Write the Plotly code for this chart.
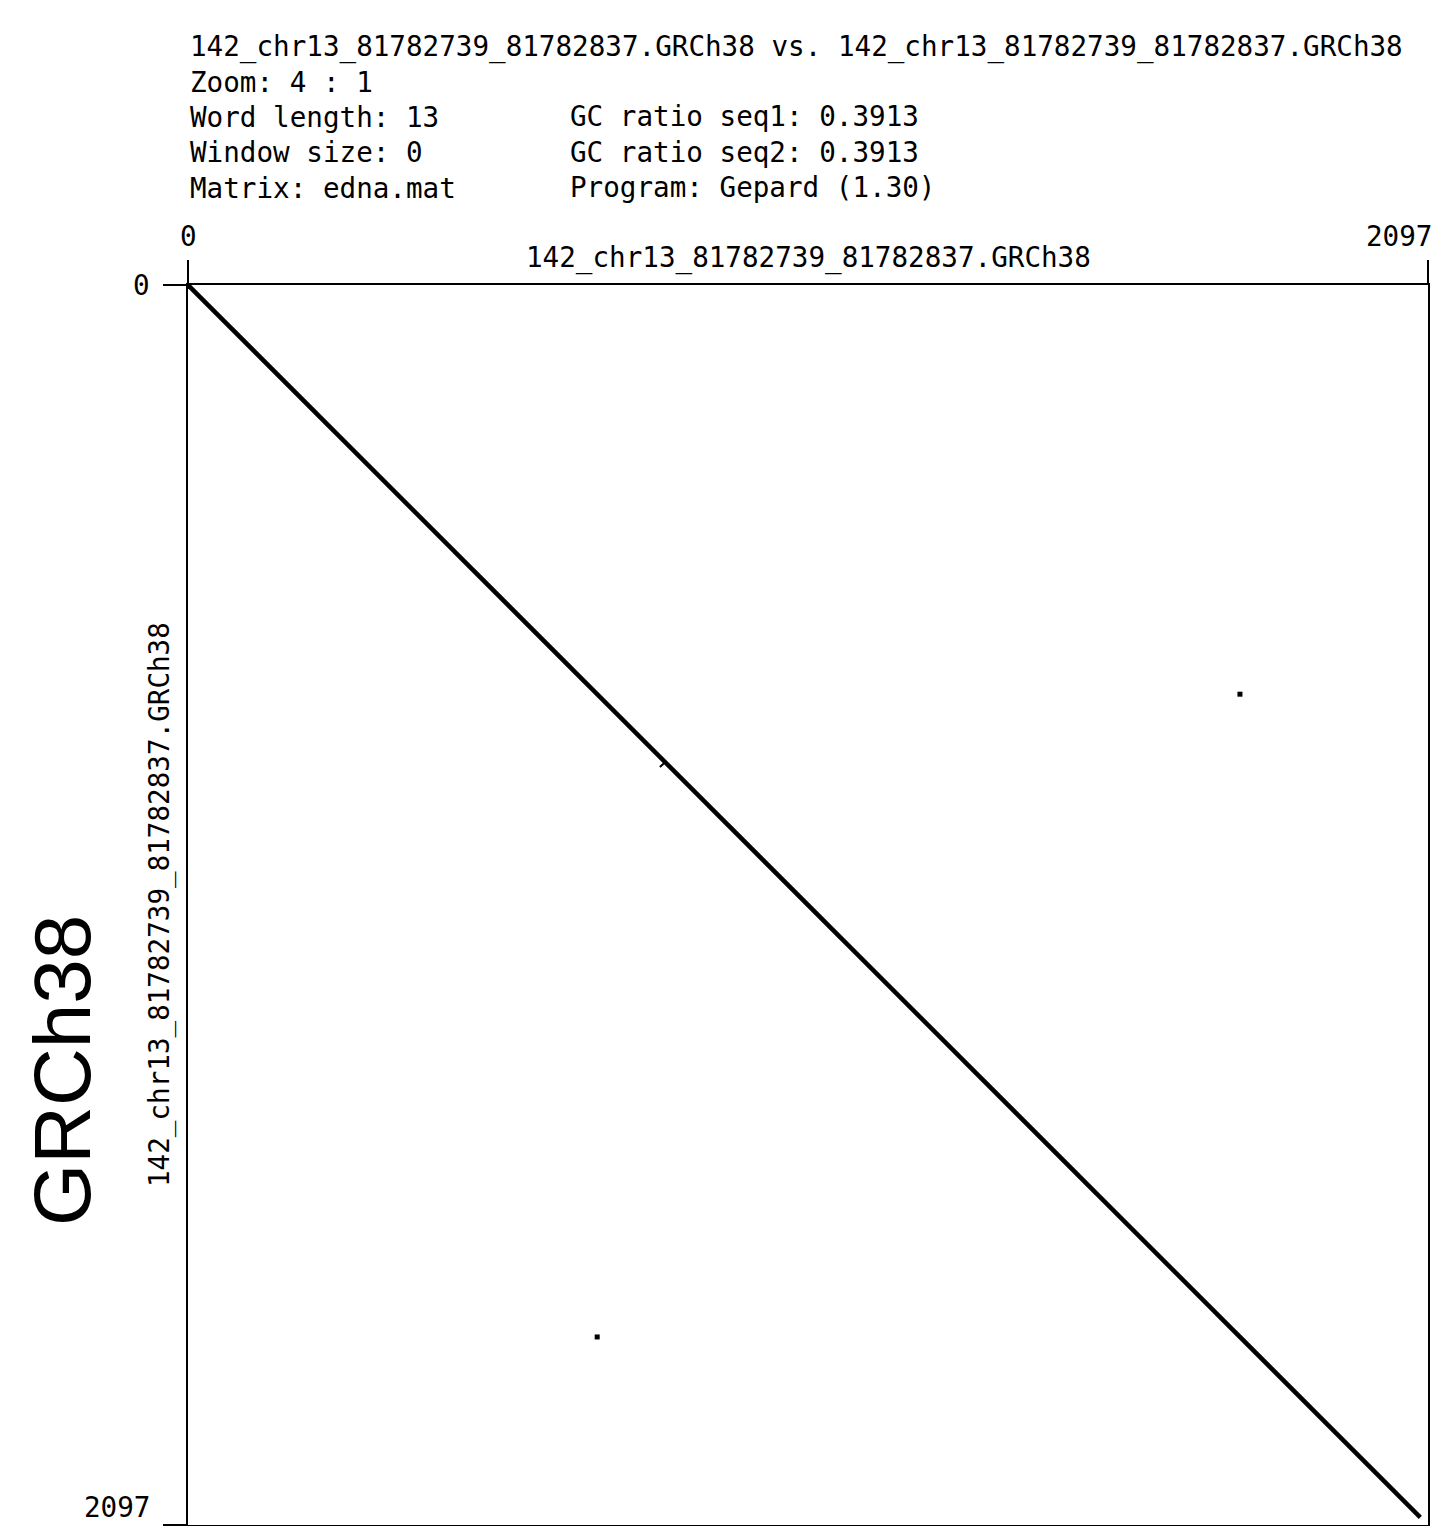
import plotly.graph_objects as go

# dotplot data (sequence positions)
seq_len = 2097
diag_x = [0, 2084]
diag_y = [0, 2084]
dot_x = [1779, 692]
dot_y = [692, 1779]
nick_x = [798, 806]
nick_y = [815, 808]

x_ticks = [0, 2097]
y_ticks = [0, 2097]

seq_name = "142_chr13_81782739_81782837.GRCh38"
header_left = [seq_name + " vs. " + seq_name, "Zoom: 4 : 1", "Word length: 13",
               "Window size: 0", "Matrix: edna.mat"]
header_right = ["GC ratio seq1: 0.3913", "GC ratio seq2: 0.3913", "Program: Gepard (1.30)"]

# page has an 8px body margin, so the figure is drawn from (8, 8)
OFF = 8
W, H = 1440 - OFF, 1526 - OFF
mono = dict(family="DejaVu Sans Mono", size=27.6, color="black")

def px_y(py):
    return 1 - (py - OFF) / H

def px_x(px):
    return (px - OFF) / W

fig = go.Figure()
fig.add_trace(go.Scatter(x=diag_x, y=diag_y, mode="lines",
                         line=dict(color="black", width=4.5), hoverinfo="skip"))
fig.add_trace(go.Scatter(x=nick_x, y=nick_y, mode="lines",
                         line=dict(color="black", width=2), hoverinfo="skip"))
fig.add_trace(go.Scatter(x=dot_x, y=dot_y, mode="markers",
                         marker=dict(symbol="square", size=5, color="black", line=dict(width=0))))

ann = []
# header lines
for i, t in enumerate(header_left):
    ann.append(dict(text=t, x=px_x(188), y=px_y(47 + i * 35.3), xref="paper", yref="paper",
                    xanchor="left", yanchor="middle", showarrow=False, font=mono))
for i, t in enumerate(header_right):
    ann.append(dict(text=t, x=px_x(568), y=px_y(117 + i * 35.3), xref="paper", yref="paper",
                    xanchor="left", yanchor="middle", showarrow=False, font=mono))

# tick labels
ann.append(dict(text=str(x_ticks[0]), x=x_ticks[0], y=px_y(236), xref="x", yref="paper",
                xanchor="center", yanchor="middle", showarrow=False, font=mono))
ann.append(dict(text=str(x_ticks[1]), x=px_x(1434), y=px_y(236), xref="paper", yref="paper",
                xanchor="right", yanchor="middle", showarrow=False, font=mono))
ann.append(dict(text=str(y_ticks[0]), x=px_x(152), y=y_ticks[0], xref="paper", yref="y",
                xanchor="right", yanchor="middle", showarrow=False, font=mono))
ann.append(dict(text=str(y_ticks[1]), x=px_x(152), y=px_y(1526), xref="paper", yref="paper",
                xanchor="right", yanchor="bottom", showarrow=False, font=mono))

# axis titles
ann.append(dict(text=seq_name, x=0.5 * (px_x(188) + px_x(1428)), y=px_y(258), xref="paper",
                yref="paper", xanchor="center", yanchor="middle", showarrow=False, font=mono))
ann.append(dict(text=seq_name, x=px_x(160), y=px_y(905), xref="paper", yref="paper",
                xanchor="center", yanchor="middle", textangle=-90, showarrow=False, font=mono))
ann.append(dict(text="GRCh38", x=px_x(62), y=px_y(1071), xref="paper", yref="paper",
                xanchor="center", yanchor="middle", textangle=-90, showarrow=False,
                font=dict(family="Liberation Sans", size=80, color="black")))

fig.update_layout(
    width=W, height=H, margin=dict(l=0, r=0, t=0, b=0),
    plot_bgcolor="white", paper_bgcolor="white", showlegend=False,
    annotations=ann,
    xaxis=dict(domain=[px_x(188), px_x(1428)], range=[0, seq_len], side="top",
               showgrid=False, zeroline=False, showline=True, mirror=True,
               linecolor="black", linewidth=2, ticks="outside", ticklen=23,
               tickwidth=2, tickcolor="black", tickvals=x_ticks, showticklabels=False),
    yaxis=dict(domain=[px_y(1525), px_y(285)], range=[seq_len, 0],
               showgrid=False, zeroline=False, showline=True, mirror=True,
               linecolor="black", linewidth=2, ticks="outside", ticklen=23,
               tickwidth=2, tickcolor="black", tickvals=y_ticks, showticklabels=False),
)

fig.write_html("out.html")
